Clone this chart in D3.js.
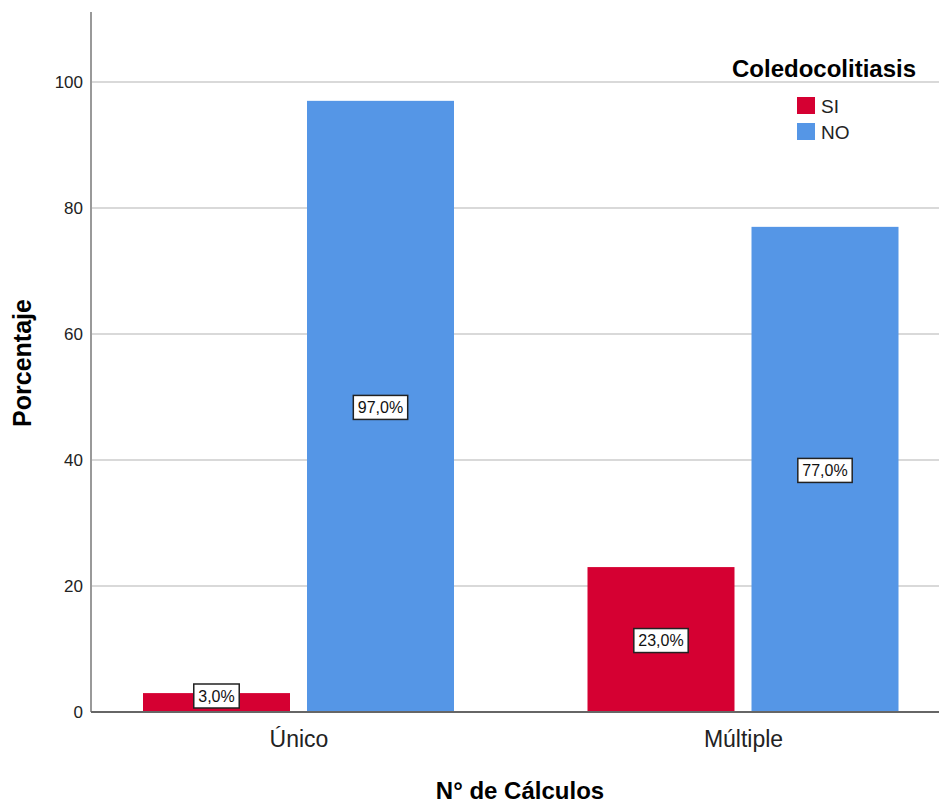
<!DOCTYPE html>
<html>
<head>
<meta charset="utf-8">
<script src="https://cdn.jsdelivr.net/npm/d3@7"></script>
<style>
  body { margin: 0; background: #fff; }
  text { font-family: "Liberation Sans", Arial, sans-serif; }
</style>
</head>
<body>
<script>
/* data */
var categories = ["Único", "Múltiple"];
var series = ["SI", "NO"];
var valuesSI = [3.0, 23.0];
var valuesNO = [97.0, 77.0];
var yTicks = [0, 20, 40, 60, 80, 100];
var colors = { SI: "#d50032", NO: "#5596e6" };

var width = 939, height = 805;
/* plot edges (note: "top" is reserved on window, so use plot* names) */
var plotLeft = 91, plotBottom = 712, plotTop = 12, plotRight = 939;

var svg = d3.select("body").append("svg")
    .attr("width", width)
    .attr("height", height);

/* scales */
var y = d3.scaleLinear().domain([0, 111.1]).range([plotBottom, plotTop]);
var x = d3.scalePoint().domain(categories).range([298.5, 743]);
var xs = d3.scaleBand().domain(series).range([-155.5, 155.5]).paddingInner(0.1037);

/* gridlines */
svg.append("g")
  .selectAll("line")
  .data(yTicks.filter(function (d) { return d > 0; }))
  .enter().append("line")
    .attr("x1", plotLeft).attr("x2", plotRight)
    .attr("y1", function (d) { return y(d); })
    .attr("y2", function (d) { return y(d); })
    .attr("stroke", "#d9d9d9")
    .attr("stroke-width", 2);

/* bars */
var rows = categories.map(function (c, i) {
  return [{ cat: c, s: "SI", v: valuesSI[i] }, { cat: c, s: "NO", v: valuesNO[i] }];
});
var flat = d3.merge(rows);

svg.append("g")
  .selectAll("rect")
  .data(flat)
  .enter().append("rect")
    .attr("x", function (d) { return x(d.cat) + xs(d.s); })
    .attr("width", xs.bandwidth())
    .attr("y", function (d) { return y(d.v); })
    .attr("height", function (d) { return y(0) - y(d.v); })
    .attr("fill", function (d) { return colors[d.s]; });

/* value labels, box sized to the text */
var boxH = 24;
var lab = svg.append("g")
  .selectAll("g")
  .data(flat)
  .enter().append("g")
    .attr("transform", function (d) {
      var cy = (y(0) + y(d.v)) / 2 + 1;
      cy = Math.min(cy, y(0) - boxH / 2 - 4);
      return "translate(" + (x(d.cat) + xs(d.s) + xs.bandwidth() / 2) + "," + cy + ")";
    });
lab.append("rect")
    .attr("y", -boxH / 2)
    .attr("height", boxH)
    .attr("fill", "#fff")
    .attr("stroke", "#222")
    .attr("stroke-width", 1.5);
var lt = lab.append("text")
    .attr("text-anchor", "middle")
    .attr("dy", "0.36em")
    .style("font-size", "16px")
    .attr("fill", "#111")
    .text(function (d) { return d.v.toFixed(1).replace(".", ",") + "%"; });
lt.each(function (d) {
  var w = this.getComputedTextLength() + 9;
  d3.select(this.parentNode).select("rect")
    .attr("x", -w / 2)
    .attr("width", w);
});

/* y axis */
var yAxis = d3.axisLeft(y).tickValues(yTicks).tickSize(0).tickPadding(8);
var gy = svg.append("g")
    .attr("transform", "translate(" + plotLeft + ",0)")
    .call(yAxis);
gy.select(".domain").remove();
gy.selectAll("text")
    .style("font-family", "Liberation Sans, Arial, sans-serif")
    .style("font-size", "17px")
    .attr("fill", "#222");
svg.append("line")
    .attr("x1", plotLeft).attr("x2", plotLeft)
    .attr("y1", plotTop).attr("y2", plotBottom)
    .attr("stroke", "#999").attr("stroke-width", 2);

/* x axis */
var xAxis = d3.axisBottom(x).tickSize(0).tickPadding(19);
var gx = svg.append("g")
    .attr("transform", "translate(0," + plotBottom + ")")
    .call(xAxis);
gx.select(".domain").remove();
gx.selectAll("text")
    .style("font-family", "Liberation Sans, Arial, sans-serif")
    .style("font-size", "23px")
    .attr("fill", "#222");
svg.append("line")
    .attr("x1", plotLeft).attr("x2", plotRight)
    .attr("y1", plotBottom).attr("y2", plotBottom)
    .attr("stroke", "#666").attr("stroke-width", 2);

/* axis titles */
svg.append("text")
    .attr("x", 520).attr("y", 799)
    .attr("text-anchor", "middle")
    .style("font-size", "24px").style("font-weight", "bold")
    .text("N° de Cálculos");
svg.append("text")
    .attr("transform", "translate(31,363) rotate(-90)")
    .attr("text-anchor", "middle")
    .style("font-size", "25px").style("font-weight", "bold")
    .text("Porcentaje");

/* legend */
var legend = svg.append("g");
legend.append("text")
    .attr("x", 824).attr("y", 77)
    .attr("text-anchor", "middle")
    .style("font-size", "24px").style("font-weight", "bold")
    .text("Coledocolitiasis");
var li = legend.selectAll("g.item")
  .data(series)
  .enter().append("g")
    .attr("class", "item")
    .attr("transform", function (d, i) { return "translate(797," + (97 + i * 26) + ")"; });
li.append("rect")
    .attr("width", 18).attr("height", 17)
    .attr("fill", function (d) { return colors[d]; });
li.append("text")
    .attr("x", 24).attr("y", 9).attr("dy", "0.36em")
    .style("font-size", "19px")
    .attr("fill", "#222")
    .text(function (d) { return d; });
</script>
</body>
</html>
